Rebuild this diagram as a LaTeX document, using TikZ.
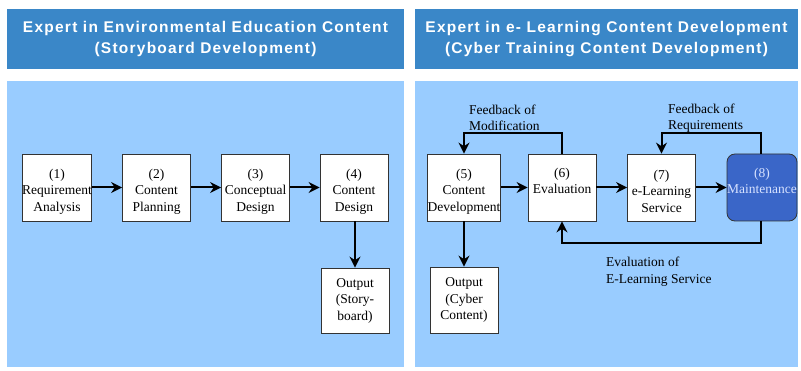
\documentclass[tikz,border=0pt]{standalone}
\usepackage{fontspec}
\setmainfont{Liberation Serif}
\newfontfamily\headfont[LetterSpace=8]{Liberation Sans}
\usepackage{xcolor}
\usepackage{tikz}
\usetikzlibrary{calc}
\usetikzlibrary{arrows.meta}
\usetikzlibrary{positioning}
\definecolor{headblue}{RGB}{58,135,200}
\definecolor{panelblue}{RGB}{153,204,255}
\definecolor{maintblue}{RGB}{58,102,200}
\definecolor{mainttext}{RGB}{215,226,255}
\tikzset{>={Stealth[length=11pt, width=11pt]}}
\tikzstyle{head} = [rectangle, fill = headblue, draw = none, text = white, align = center,
  font = \headfont\bfseries\fontsize{15.5}{20.5}\selectfont]
\tikzstyle{panel} = [fill = panelblue, draw = none]
\tikzstyle{stage} = [rectangle, draw = black!80, fill = white, line width = 0.8pt,
  minimum width = 68pt, minimum height = 67pt, inner sep = 0pt, align = center,
  font = \fontsize{13.5}{16.5}\selectfont]
\tikzstyle{outbox} = [stage, minimum height = 65pt]
\tikzstyle{flow} = [->, line width = 2pt]
\tikzstyle{note} = [draw = none, anchor = west, align = left, inner sep = 0,
  font = \fontsize{13.5}{16.5}\selectfont]
% taller first line pushes the label block a little down
\newcommand{\firstline}{\rule{0pt}{17pt}}

\begin{document}
\begin{tikzpicture}[x = 10pt, y = 10pt]
\useasboundingbox (0, 0) rectangle (80.1, 37);
% two columns: header band and panel
\fill [headblue] (0.7, 30.1) rectangle (40.4, 36.1);
\fill [headblue] (41.5, 30.1) rectangle (79.8, 36.1);
\fill [panelblue] (0.7, 0.3) rectangle (40.4, 28.9);
\fill [panelblue] (41.5, 0.3) rectangle (79.8, 28.9);
\node [head] (H1) at (20.55, 33.1) {Expert in Environmental Education Content\\(Storyboard Development)};
\node [head] (H2) at (60.65, 33.1) {Expert in e- Learning Content Development\\(Cyber Training Content Development)};

% storyboard stages
\node [stage] (S1) at (5.7, 18.25) {\firstline(1)\\Requirement\\Analysis};
\node [stage] (S2) at (15.65, 18.25) {\firstline(2)\\Content\\Planning};
\node [stage] (S3) at (25.55, 18.25) {\firstline(3)\\Conceptual\\Design};
\node [stage] (S4) at (35.4, 18.25) {\firstline(4)\\Content\\Design};
\node [outbox] (O1) at (35.5, 6.95) {Output\\(Story-\\board)};
\draw [flow] (S1) to (S2);
\draw [flow] (S2) to (S3);
\draw [flow] (S3) to (S4);
\draw [flow] (S4.south -| O1.north) to (O1.north);

% e-learning stages
\node [stage] (S5) at (46.4, 18.25) {\firstline(5)\\Content\\Development};
\node [stage] (S6) at (56.2, 18.25) {\firstline(6)\\Evaluation\\\strut};
\node [stage] (S7) at (66.15, 18.25) {\firstline(7)\\e-Learning\\Service};
\node [stage, fill = maintblue, rounded corners = 8pt, minimum width = 70pt,
  text = mainttext] (S8) at (76.2, 18.25) {\firstline(8)\\Maintenance\\\strut};
\node [outbox, minimum height = 66pt] (O2) at (46.4, 7.0) {Output\\(Cyber\\Content)};
\draw [flow] (S5) to (S6);
\draw [flow] (S6) to (S7);
\draw [flow] (S7) to (S8);
\draw [flow] (S5) to (O2);
\draw [flow] (S6.north) -- ++(0, 2.1) -| (S5.north);
\draw [flow] ([xshift = -1pt]S8.north) -- ++(0, 2.1) -| (S7.north);
\draw [flow] ([xshift = -1pt]S8.south) -- ++(0, -2.2) -| (S6.south);

\node [note] (N1) at (46.9, 25.2) {Feedback of\\Modification};
\node [note] (N2) at (66.8, 25.2) {Feedback of\\Requirements};
\node [note] (N3) at (60.6, 9.85) {Evaluation of\\E-Learning Service};
\end{tikzpicture}
\end{document}
